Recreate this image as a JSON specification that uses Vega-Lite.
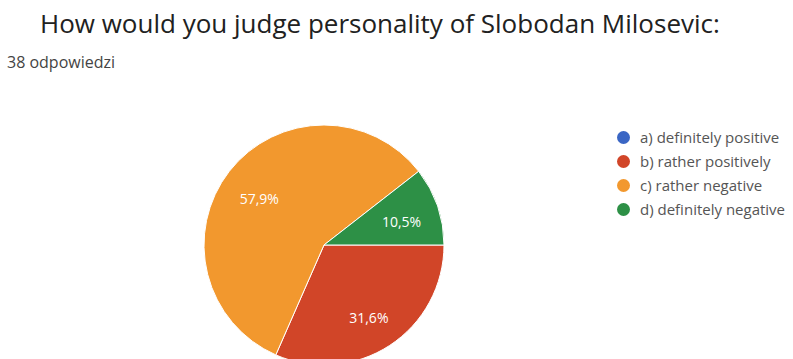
{
  "$schema": "https://vega.github.io/schema/vega-lite/v6.json",
  "padding": {"left": 7, "top": 12, "right": 0, "bottom": 0},
  "background": "white",
  "title": {
    "text": "How would you judge personality of Slobodan Milosevic:",
    "anchor": "start",
    "dx": 33,
    "font": "Open Sans",
    "fontSize": 26,
    "fontWeight": "normal",
    "color": "#212121",
    "offset": 17
  },
  "vconcat": [
    {
      "title": {
        "text": "38 odpowiedzi",
        "anchor": "start",
        "font": "Open Sans",
        "fontSize": 16,
        "fontWeight": "normal",
        "color": "#444444",
        "offset": 13
      },
      "width": 634,
      "height": 322,
      "view": {"stroke": null},
      "data": {
        "values": [
          {"answer": "a) definitely positive", "value": 0, "label": ""},
          {"answer": "b) rather positively", "value": 12, "label": "31,6%"},
          {"answer": "c) rather negative", "value": 22, "label": "57,9%"},
          {"answer": "d) definitely negative", "value": 4, "label": "10,5%"}
        ]
      },
      "encoding": {
        "theta": {"field": "value", "type": "quantitative", "stack": true, "scale": {"range": [1.5707963, 7.8539816]}},
        "order": {"field": "answer", "sort": "ascending"},
        "color": {
          "field": "answer",
          "type": "nominal",
          "scale": {
            "domain": ["a) definitely positive", "b) rather positively", "c) rather negative", "d) definitely negative"],
            "range": ["#3A66C4", "#D14528", "#F2982E", "#2D9046"]
          },
          "legend": {
            "title": null,
            "orient": "none",
            "legendX": 609,
            "legendY": 46,
            "padding": 0,
            "symbolType": "circle",
            "symbolSize": 169,
            "symbolStrokeWidth": 0,
            "labelFont": "Open Sans",
            "labelFontSize": 15,
            "labelColor": "#555555",
            "labelOffset": 9,
            "rowPadding": 8
          }
        }
      },
      "layer": [
        {"mark": {"type": "arc", "outerRadius": 120, "stroke": "white", "strokeWidth": 1}},
        {
          "transform": [{"filter": "datum.value > 0"}],
          "mark": {"type": "text", "radius": 82, "dy": 5, "font": "Open Sans", "fontSize": 14, "fill": "white", "baseline": "middle", "align": "center"},
          "encoding": {"text": {"field": "label"}, "color": {"value": "white"}}
        }
      ]
    }
  ]
}
